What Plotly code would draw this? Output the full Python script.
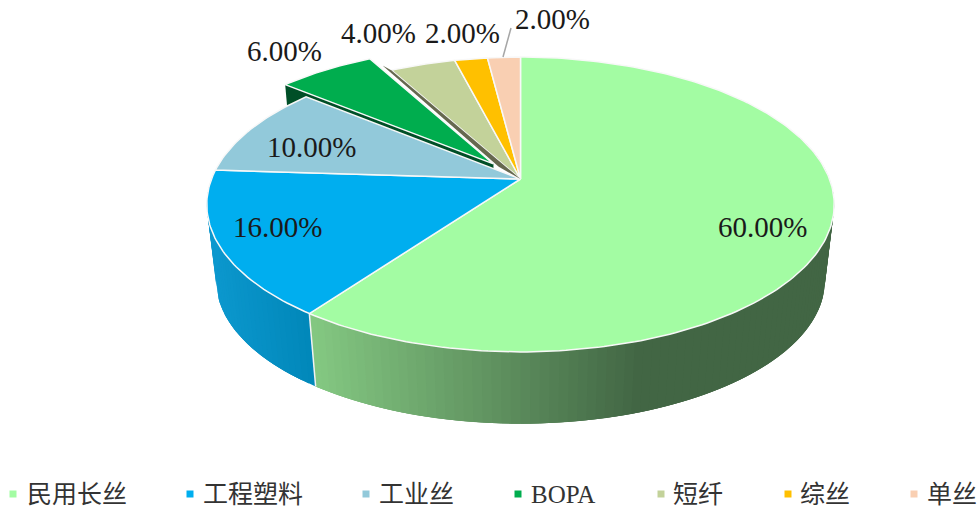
import math
import plotly.graph_objects as go

# ---- data ----
categories = ["民用长丝", "工程塑料", "工业丝", "BOPA", "短纤", "综丝", "单丝"]
shares = [60, 16, 10, 6, 4, 2, 2]
colors = ["#A3FCA3", "#00AEEF", "#92C9DA", "#00AD4E", "#C3D29A", "#FFC000", "#F9CFB2"]

# ---- projection of the disc onto the page ----
CX, CY, RX, RY, K = 520.5, 179.0, 309.0, 143.0, 0.173
DEPTH_SCALE, DEPTH_CY = 0.97, 256.0
EXPLODED = "BOPA"
EXPLODE = 0.14
TOTAL = sum(shares)


def project(u, v):
    w = 1 + K * v
    return CX + RX * u / w, CY - RY * v / w


def lower(p):
    return CX + DEPTH_SCALE * (p[0] - CX), DEPTH_CY + DEPTH_SCALE * (p[1] - CY)


def polar(deg, offset=(0.0, 0.0)):
    t = math.radians(deg)
    return offset[0] + math.sin(t), offset[1] + math.cos(t)


def offset_of(a0, a1, scale=EXPLODE):
    m = math.radians((a0 + a1) / 2)
    return scale * math.sin(m), scale * math.cos(m)


def slice_points(a0, a1, offset=(0.0, 0.0)):
    n = max(4, int((a1 - a0) / 1.0))
    pts = [project(*offset)]
    pts += [project(*polar(a0 + (a1 - a0) * i / n, offset)) for i in range(n + 1)]
    pts.append(pts[0])
    return pts


def mix(c0, c1, f):
    f = max(0.0, min(1.0, f))
    return "rgb(%d,%d,%d)" % tuple(round(a + (b - a) * f) for a, b in zip(c0, c1))


def poly(fig, pts, fill, line=None, width=0.0, name=None):
    fig.add_trace(go.Scatter(
        x=[p[0] for p in pts], y=[p[1] for p in pts], mode="lines",
        fill="toself", fillcolor=fill,
        line=dict(color=line or fill, width=width),
        hoverinfo="skip", showlegend=False, name=name or ""))


fig = go.Figure()

# angular extents of every slice, clockwise from twelve o'clock
spans = {}
start = 0.0
for name, value in zip(categories, shares):
    end = start + 360.0 * value / TOTAL
    spans[name] = (start, end)
    start = end


def wall_with_overlap(a0, a1, colour_at):
    """Shaded rim: each strip reaches over the following ones, which paint over it."""
    n = max(1, int((a1 - a0) / 1.5))
    edges = [a0 + (a1 - a0) * i / n for i in range(n + 1)]
    for i in range(n):
        stop = edges[min(i + 3, n)]
        mid = [edges[i] + (stop - edges[i]) * j / 6 for j in range(7)]
        top = [project(*polar(a)) for a in mid]
        col = colour_at(project(*polar((edges[i] + edges[i + 1]) / 2))[0])
        poly(fig, top + [lower(p) for p in reversed(top)] + [top[0]], col, col, 0.0)


# rim of the two front slices
a0, a1 = spans[categories[0]]
wall_with_overlap(75, a1, lambda x: mix((131, 199, 129), (66, 102, 68), (x - 315) / 325))
b0, b1 = spans[categories[1]]
wall_with_overlap(b0, b1, lambda x: mix((0, 134, 184), (12, 152, 206), (315 - x) / 107))
seam_top = project(*polar(a1))
seam = [seam_top, lower(seam_top)]
fig.add_trace(go.Scatter(x=[p[0] for p in seam], y=[p[1] for p in seam], mode="lines",
                         line=dict(color="#F2F2F2", width=1.5), hoverinfo="skip", showlegend=False))

# cut faces exposed by the pulled-out slice
e0, e1 = spans[EXPLODED]
off = offset_of(e0, e1)
corner = project(*polar(e0, off))
apex = project(*off)
poly(fig, [corner, apex, lower(apex), lower(corner), corner], "#004F27")

# slices other than the pulled-out one
for name, colour in zip(categories, colors):
    if name != EXPLODED:
        s0, s1 = spans[name]
        poly(fig, slice_points(s0, s1), colour, "#F8F8F8", 1.5, name)

# narrow shaded face beside the pulled-out slice
centre = project(0, 0)
edge = project(*polar(e1))
near = (off[0] * 0.8, off[1] * 0.8)
edge2 = project(*polar(e1, (off[0] * 0.4, off[1] * 0.4)))
poly(fig, [edge, centre, project(*near), edge2, edge], "#66684F")

# pulled-out slice on top
poly(fig, slice_points(e0, e1, off), colors[categories.index(EXPLODED)], "#F8F8F8", 1.5, EXPLODED)

# leader line of the last label
fig.add_trace(go.Scatter(x=[503, 511], y=[57, 28], mode="lines",
                         line=dict(color="#A6A6A6", width=1.5), hoverinfo="skip", showlegend=False))

FONT = "Liberation Serif, Noto Sans CJK SC, serif"
label_anchor_x = [762, 277, 311, 284, 378, 462, 552]
label_anchor_y = [227, 227, 147, 51, 33, 33, 19]
annotations = []
for value, ax, ay in zip(shares, label_anchor_x, label_anchor_y):
    annotations.append(dict(x=ax, y=ay, text=f"{value * 100 / TOTAL:.2f}%", showarrow=False,
                            xanchor="center", yanchor="middle",
                            font=dict(family=FONT, size=29, color="#1A1A1A")))

# legend row
legend_marker_x = [13, 190, 366, 518, 661, 788, 914]
legend_text_x = [25, 201, 377, 529, 671, 798, 925]
LEGEND_Y = 494
for name, colour, mx, tx in zip(categories, colors, legend_marker_x, legend_text_x):
    fig.add_trace(go.Scatter(x=[mx], y=[LEGEND_Y], mode="markers", name=name,
                             marker=dict(symbol="square", size=7, color=colour, line=dict(width=0)),
                             hoverinfo="name", showlegend=False))
    annotations.append(dict(x=tx, y=LEGEND_Y, text=name, showarrow=False,
                            xanchor="left", yanchor="middle",
                            font=dict(family=FONT, size=25, color="#333333")))

fig.update_layout(
    width=978, height=509, autosize=False,
    margin=dict(l=0, r=0, t=0, b=0),
    paper_bgcolor="white", plot_bgcolor="white",
    showlegend=False, annotations=annotations,
    xaxis=dict(range=[0, 978], visible=False, fixedrange=True),
    yaxis=dict(range=[509, 0], visible=False, fixedrange=True),
)
fig.write_html("out.html", config=dict(displayModeBar=False),
               post_script="document.body.style.margin='0';document.body.style.overflow='hidden';")
